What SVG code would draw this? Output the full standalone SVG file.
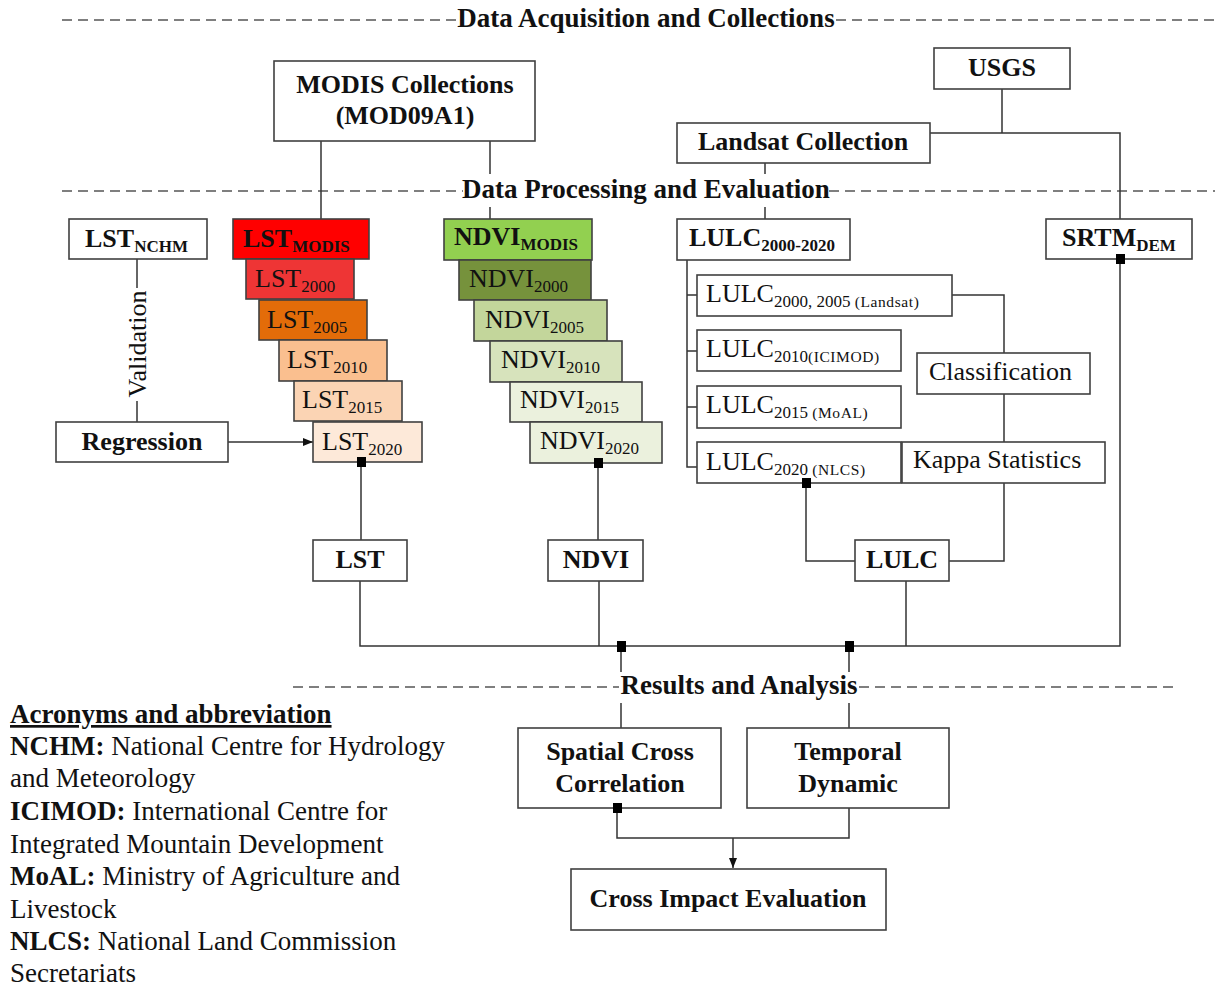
<svg xmlns="http://www.w3.org/2000/svg" width="1215" height="986" viewBox="0 0 1215 986">
<style>
text{font-family:"Liberation Serif","Times New Roman",serif;font-size:26px;fill:#111}
.b{font-weight:bold}
.c{text-anchor:middle}
.h{font-size:27px}
.lg{font-size:27px}
.s{font-size:17px}
.ss{font-size:15.5px;letter-spacing:0.6px}
.box{fill:#fff;stroke:#404040;stroke-width:1.6}
.dash{stroke:#555;stroke-width:1.5;stroke-dasharray:10 6;fill:none}
.ln{stroke:#333;stroke-width:1.5;fill:none}
.jn{fill:#000}
.bg{fill:#fff}
</style>
<defs>
<marker id="arr" markerWidth="10" markerHeight="10" refX="10" refY="5" orient="auto" markerUnits="userSpaceOnUse">
<path d="M0,1 L10,5 L0,9 z" fill="#111"/>
</marker>
</defs>

<g id="sections">
<path class="dash" d="M62,20 H457 M836,20 H1215"/>
<path class="dash" d="M62,191 H463 M829,191 H1215"/>
<path class="dash" d="M293,687 H619 M859,687 H1175"/>
</g>

<g id="connectors">
<path class="ln" d="M321,141 V219"/>
<path class="ln" d="M490,141 V219"/>
<path class="ln" d="M1002,89 V133 M930,133 H1120 V219"/>
<path class="ln" d="M765,163 V219"/>
<path class="ln" d="M137,259 V422"/>
<path class="ln" d="M228,442 H313" marker-end="url(#arr)"/>
<path class="ln" d="M687,260 V467 H697 M687,295 H697 M687,351 H697 M687,407 H697"/>
<path class="ln" d="M952,295 H1004 V353"/>
<path class="ln" d="M1004,394 V442"/>
<path class="ln" d="M1004,483 V561 H949"/>
<path class="ln" d="M806,483 V561 H855"/>
<path class="ln" d="M361,462 V540"/>
<path class="ln" d="M598,463 V540"/>
<path class="ln" d="M360,581 V646 H1120 V259"/>
<path class="ln" d="M599,581 V646"/>
<path class="ln" d="M906,581 V646"/>
<path class="ln" d="M621,646 V728"/>
<path class="ln" d="M849,646 V728"/>
<path class="ln" d="M617,808 V838 H849 V808"/>
<path class="ln" d="M733,838 V868" marker-end="url(#arr)"/>
<rect class="bg" x="124" y="288" width="26" height="113"/>
<text transform="translate(146,344) rotate(-90)" class="c">Validation</text>
</g>

<g id="section-labels">
<text class="b c h" x="646" y="27">Data Acquisition and Collections</text>
<rect class="bg" x="464" y="174" width="364" height="33"/>
<text class="b c h" x="646" y="198">Data Processing and Evaluation</text>
<rect class="bg" x="620" y="672" width="238" height="31"/>
<text class="b c h" x="739" y="694">Results and Analysis</text>
</g>

<g id="modis">
<rect class="box" x="274" y="61" width="261" height="80"/>
<text class="b c" x="405" y="93">MODIS Collections</text>
<text class="b c" x="405" y="124">(MOD09A1)</text>
</g>
<g id="usgs">
<rect class="box" x="934" y="48" width="136" height="41"/>
<text class="b c" x="1002" y="76">USGS</text>
</g>
<g id="landsat">
<rect class="box" x="677" y="123" width="253" height="40"/>
<text class="b c" x="803" y="150">Landsat Collection</text>
</g>

<g id="lst-nchm">
<rect class="box" x="69" y="219" width="138" height="40"/>
<text class="b" x="85" y="247">LST<tspan class="s" dy="5">NCHM</tspan></text>
</g>
<g id="regression">
<rect class="box" x="56" y="422" width="172" height="40"/>
<text class="b c" x="142" y="450">Regression</text>
</g>

<g id="lst-modis">
<rect class="box" x="233" y="219" width="136" height="40" style="fill:#FF0000"/>
<text class="b" x="243" y="247">LST<tspan class="s" dy="5">MODIS</tspan></text>
</g>
<g id="lst2000">
<rect class="box" x="246" y="259" width="108" height="40" style="fill:#EE3535"/>
<text x="255" y="287">LST<tspan class="s" dy="5">2000</tspan></text>
</g>
<g id="lst2005">
<rect class="box" x="259" y="300" width="108" height="40" style="fill:#E36C09"/>
<text x="267" y="328">LST<tspan class="s" dy="5">2005</tspan></text>
</g>
<g id="lst2010">
<rect class="box" x="279" y="340" width="108" height="41" style="fill:#FABF8F"/>
<text x="287" y="368">LST<tspan class="s" dy="5">2010</tspan></text>
</g>
<g id="lst2015">
<rect class="box" x="294" y="381" width="108" height="40" style="fill:#FBD4B4"/>
<text x="302" y="408">LST<tspan class="s" dy="5">2015</tspan></text>
</g>
<g id="lst2020">
<rect class="box" x="313" y="422" width="109" height="40" style="fill:#FDE9D9"/>
<text x="322" y="450">LST<tspan class="s" dy="5">2020</tspan></text>
</g>

<g id="ndvi-modis">
<rect class="box" x="444" y="219" width="148" height="41" style="fill:#92D050"/>
<text class="b" x="454" y="245">NDVI<tspan class="s" dy="5">MODIS</tspan></text>
</g>
<g id="ndvi2000">
<rect class="box" x="459" y="260" width="132" height="40" style="fill:#76923C"/>
<text x="469" y="287">NDVI<tspan class="s" dy="5">2000</tspan></text>
</g>
<g id="ndvi2005">
<rect class="box" x="474" y="300" width="133" height="41" style="fill:#C3D69B"/>
<text x="485" y="328">NDVI<tspan class="s" dy="5">2005</tspan></text>
</g>
<g id="ndvi2010">
<rect class="box" x="490" y="341" width="132" height="41" style="fill:#D7E3BC"/>
<text x="501" y="368">NDVI<tspan class="s" dy="5">2010</tspan></text>
</g>
<g id="ndvi2015">
<rect class="box" x="510" y="382" width="132" height="40" style="fill:#EBF1DD"/>
<text x="520" y="408">NDVI<tspan class="s" dy="5">2015</tspan></text>
</g>
<g id="ndvi2020">
<rect class="box" x="530" y="422" width="132" height="41" style="fill:#EBF1DD"/>
<text x="540" y="449">NDVI<tspan class="s" dy="5">2020</tspan></text>
</g>

<g id="lulc-all">
<rect class="box" x="677" y="219" width="173" height="41"/>
<text class="b" x="689" y="246">LULC<tspan class="s" dy="5">2000-2020</tspan></text>
</g>
<g id="srtm">
<rect class="box" x="1046" y="219" width="146" height="40"/>
<text class="b" x="1062" y="246">SRTM<tspan class="s" dy="5">DEM</tspan></text>
</g>
<g id="lulc2000">
<rect class="box" x="697" y="275" width="255" height="41"/>
<text x="706" y="302">LULC<tspan class="s" dy="5">2000, 2005 </tspan><tspan class="ss">(Landsat)</tspan></text>
</g>
<g id="lulc2010">
<rect class="box" x="697" y="330" width="204" height="41"/>
<text x="706" y="357">LULC<tspan class="s" dy="5">2010</tspan><tspan class="ss">(ICIMOD)</tspan></text>
</g>
<g id="lulc2015">
<rect class="box" x="697" y="386" width="204" height="42"/>
<text x="706" y="413">LULC<tspan class="s" dy="5">2015 </tspan><tspan class="ss">(MoAL)</tspan></text>
</g>
<g id="lulc2020">
<rect class="box" x="697" y="442" width="204" height="41"/>
<text x="706" y="470">LULC<tspan class="s" dy="5">2020 </tspan><tspan class="ss">(NLCS)</tspan></text>
</g>
<g id="classification">
<rect class="box" x="917" y="353" width="173" height="41"/>
<text x="929" y="380">Classification</text>
</g>
<g id="kappa">
<rect class="box" x="902" y="442" width="203" height="41"/>
<text x="913" y="468">Kappa Statistics</text>
</g>

<g id="lst">
<rect class="box" x="313" y="540" width="94" height="41"/>
<text class="b c" x="360" y="568">LST</text>
</g>
<g id="ndvi">
<rect class="box" x="548" y="540" width="95" height="41"/>
<text class="b c" x="596" y="568">NDVI</text>
</g>
<g id="lulc">
<rect class="box" x="855" y="540" width="94" height="41"/>
<text class="b c" x="902" y="568">LULC</text>
</g>

<g id="spatial">
<rect class="box" x="518" y="728" width="203" height="80"/>
<text class="b c" x="620" y="760">Spatial Cross</text>
<text class="b c" x="620" y="792">Correlation</text>
</g>
<g id="temporal">
<rect class="box" x="747" y="728" width="202" height="80"/>
<text class="b c" x="848" y="760">Temporal</text>
<text class="b c" x="848" y="792">Dynamic</text>
</g>
<g id="cross-impact">
<rect class="box" x="571" y="869" width="315" height="61"/>
<text class="b c" x="728" y="907">Cross Impact Evaluation</text>
</g>

<g id="junctions">
<rect class="jn" x="357" y="457" width="9" height="10"/>
<rect class="jn" x="594" y="458" width="9" height="10"/>
<rect class="jn" x="802" y="478" width="9" height="10"/>
<rect class="jn" x="1116" y="254" width="9" height="10"/>
<rect class="jn" x="617" y="641" width="9" height="11"/>
<rect class="jn" x="845" y="641" width="9" height="11"/>
<rect class="jn" x="613" y="803" width="9" height="10"/>
</g>

<g id="legend">
<text class="b lg" x="10" y="723" text-decoration="underline">Acronyms and abbreviation</text>
<text class="lg" x="10" y="755"><tspan class="b">NCHM:</tspan> National Centre for Hydrology</text>
<text class="lg" x="10" y="787">and Meteorology</text>
<text class="lg" x="10" y="820"><tspan class="b">ICIMOD:</tspan> International Centre for</text>
<text class="lg" x="10" y="853">Integrated Mountain Development</text>
<text class="lg" x="10" y="885"><tspan class="b">MoAL:</tspan> Ministry of Agriculture and</text>
<text class="lg" x="10" y="918">Livestock</text>
<text class="lg" x="10" y="950"><tspan class="b">NLCS:</tspan> National Land Commission</text>
<text class="lg" x="10" y="982">Secretariats</text>
</g>
</svg>
